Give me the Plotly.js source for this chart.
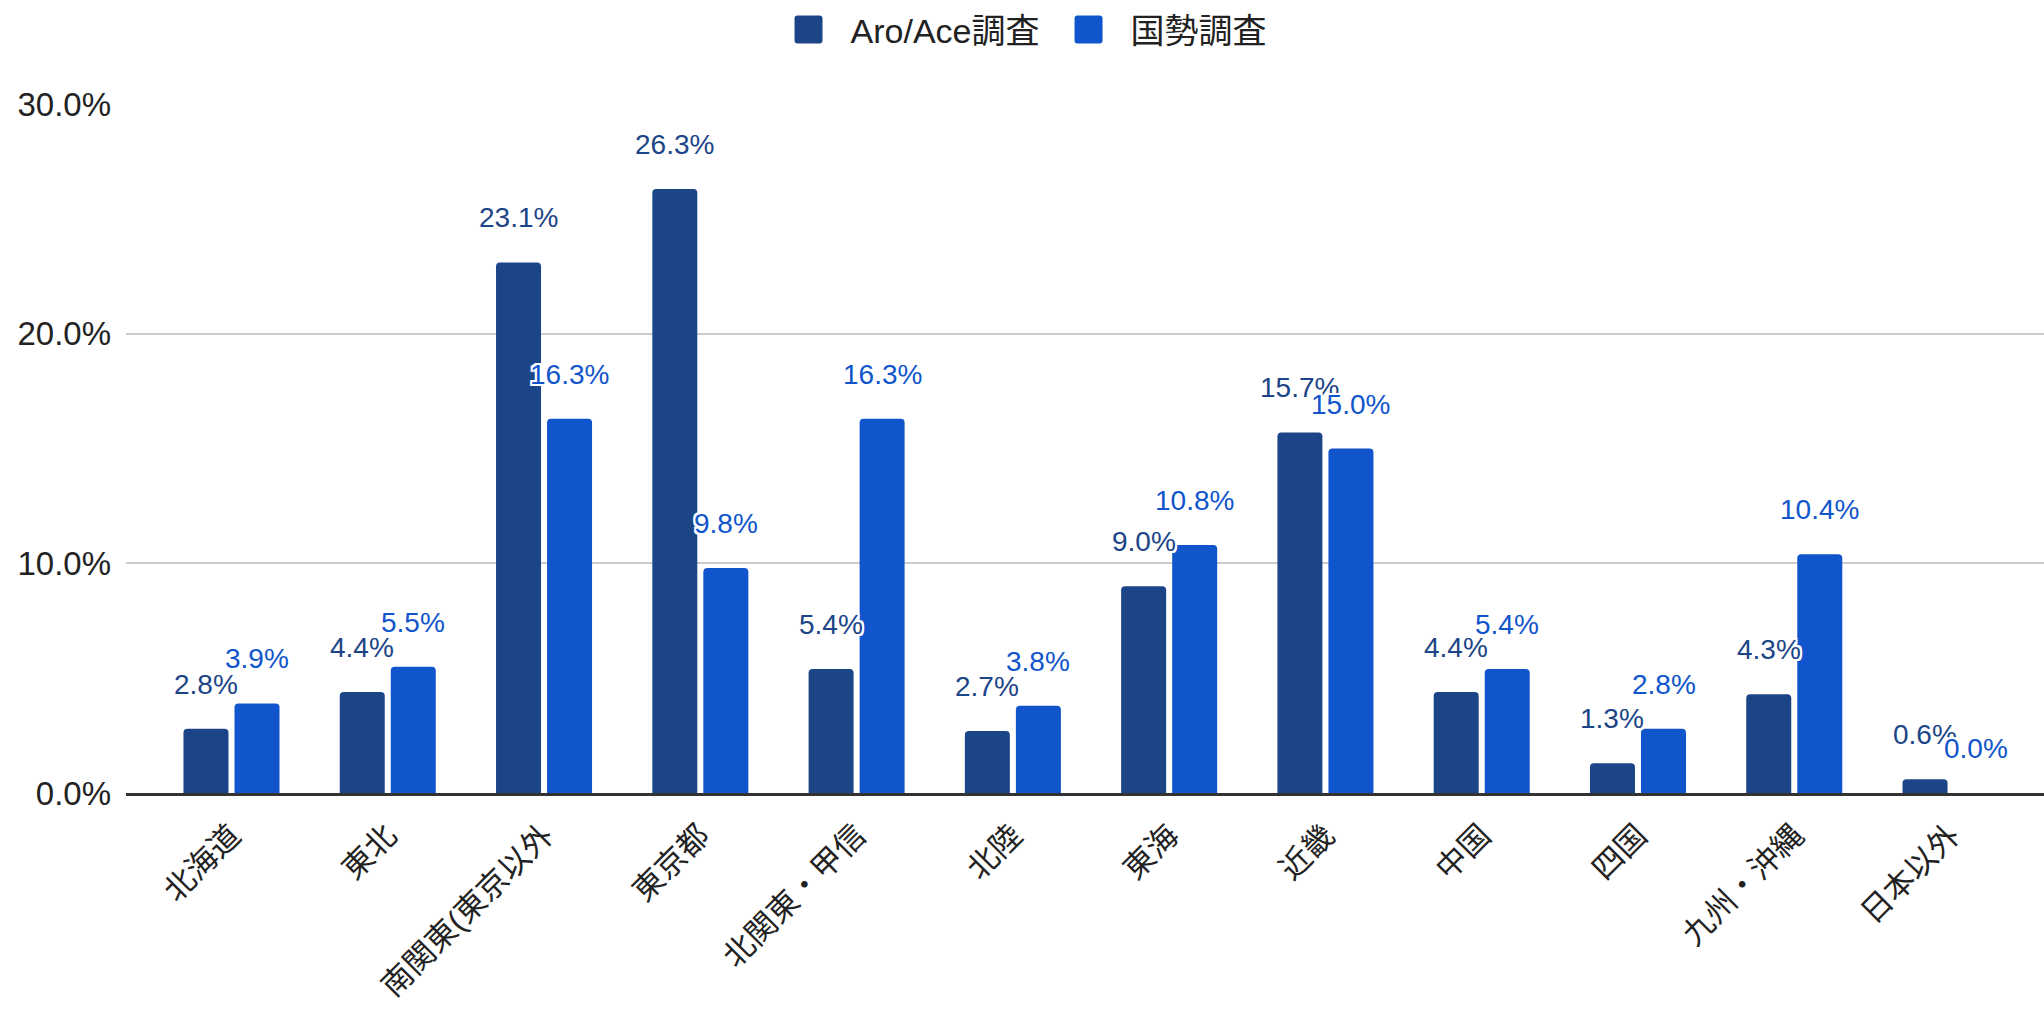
<!DOCTYPE html>
<html>
<head>
<meta charset="utf-8">
<script src="https://cdn.plot.ly/plotly-3.0.1.min.js"></script>
<style>
  html, body { margin: 0; padding: 0; background: #ffffff; }
  #chart { width: 2044px; height: 1009px; }
</style>
</head>
<body>
<div id="chart"></div>
<script>
// ---- data ----
const categories = ['北海道', '東北', '南関東(東京以外', '東京都', '北関東・甲信', '北陸', '東海', '近畿', '中国', '四国', '九州・沖縄', '日本以外'];
const seriesNames = ['Aro/Ace調査', '国勢調査'];
const aroAceValues = [2.8, 4.4, 23.1, 26.3, 5.4, 2.7, 9.0, 15.7, 4.4, 1.3, 4.3, 0.6];
const censusValues = [3.9, 5.5, 16.3, 9.8, 16.3, 3.8, 10.8, 15.0, 5.4, 2.8, 10.4, 0.0];
const yTickValues = [0, 10, 20, 30];

// ---- style ----
const COLORS = ['#1c4587', '#1155cc'];
const FONT = 'Arial, "Liberation Sans", "Noto Sans CJK JP", sans-serif';
const BARGAP = 0.347;
const BARGROUPGAP = 0.118;
const HALO = '2px 0 0 #fff, -2px 0 0 #fff, 0 2px 0 #fff, 0 -2px 0 #fff, 2px 2px 0 #fff, -2px -2px 0 #fff, 2px -2px 0 #fff, -2px 2px 0 #fff';

const seriesValues = [aroAceValues, censusValues];

const traces = seriesValues.map((vals, i) => ({
  type: 'bar',
  name: seriesNames[i],
  x: categories,
  y: vals,
  marker: { color: COLORS[i], line: { width: 0 } },
  hoverinfo: 'x+y'
}));

// value labels placed above each bar (positions derived from the data + bar offsets)
const slot = (1 - BARGAP) / 2;
const annotations = [];
seriesValues.forEach((vals, s) => {
  const off = (s === 0 ? -1 : 1) * slot / 2;
  vals.forEach((v, i) => {
    annotations.push({
      xref: 'x', yref: 'y',
      x: i + off, y: v,
      text: v.toFixed(1) + '%',
      showarrow: false,
      xanchor: 'center', yanchor: 'bottom',
      yshift: 27,
      font: { family: FONT, size: 28, color: COLORS[s], shadow: HALO }
    });
  });
});

const layout = {
  width: 2044, height: 1009,
  paper_bgcolor: '#ffffff', plot_bgcolor: '#ffffff',
  margin: { l: 126, r: 0, t: 104, b: 216, pad: 0 },
  barmode: 'group',
  bargap: BARGAP,
  bargroupgap: BARGROUPGAP,
  barcornerradius: 4,
  font: { family: FONT, color: '#222222' },
  showlegend: true,
  legend: {
    orientation: 'h',
    xref: 'container', yref: 'container',
    x: 0.512, xanchor: 'center',
    y: 1 - 30 / 1009, yanchor: 'middle',
    font: { family: FONT, size: 34, color: '#222222' },
    itemwidth: 74,
    entrywidth: 191,
    entrywidthmode: 'pixels',
    bgcolor: 'rgba(0,0,0,0)'
  },
  xaxis: {
    type: 'category',
    range: [-0.675, 11.598],
    showline: true, linecolor: '#333333', linewidth: 3,
    showgrid: false, zeroline: false,
    ticks: '',
    tickangle: -45,
    ticklabelstandoff: 9,
    tickfont: { family: FONT, size: 31, color: '#222222' },
    automargin: false,
    fixedrange: true
  },
  yaxis: {
    range: [0, 30],
    tickvals: yTickValues,
    ticktext: yTickValues.map(v => v.toFixed(1) + '%'),
    showgrid: true, gridcolor: '#cccccc', gridwidth: 2,
    zeroline: false, showline: false,
    ticks: '',
    ticklabelstandoff: 14,
    tickfont: { family: FONT, size: 33, color: '#222222' },
    automargin: false,
    fixedrange: true
  },
  annotations: annotations
};

Plotly.newPlot('chart', traces, layout, { displayModeBar: false, staticPlot: true }).then(() => {
  // enlarge legend swatches to match the reference's big rounded squares
  document.querySelectorAll('.legend .legendpoints path').forEach(p => {
    p.setAttribute('d', 'M-11,-14H11A3,3 0 0 1 14,-11V11A3,3 0 0 1 11,14H-11A3,3 0 0 1 -14,11V-11A3,3 0 0 1 -11,-14Z');
    p.style.strokeWidth = '0';
  });
});
</script>
</body>
</html>
